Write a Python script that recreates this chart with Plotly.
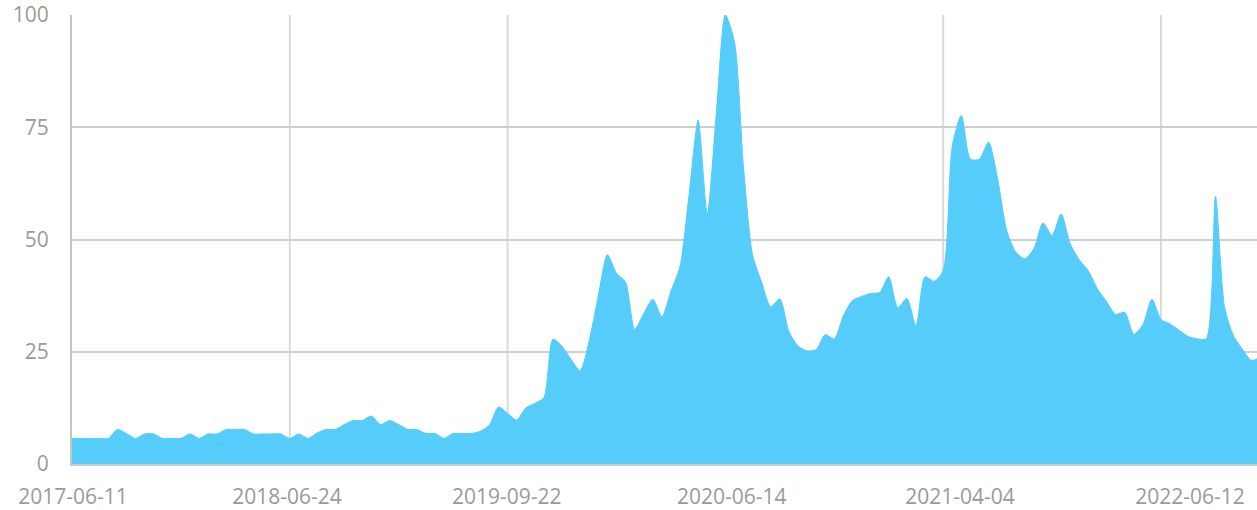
import plotly.graph_objects as go

# ---- data ----
values = [
    5.7, 5.7, 5.7, 5.7, 5.7, 7.7, 6.8, 5.7, 6.7, 6.7,
    5.7, 5.7, 5.7, 6.7, 5.7, 6.7, 6.7, 7.7, 7.7, 7.7,
    6.7, 6.7, 6.7, 6.7, 5.7, 6.7, 5.7, 6.9, 7.7, 7.7,
    8.8, 9.7, 9.7, 10.7, 8.8, 9.7, 8.8, 7.7, 7.7, 6.8,
    6.8, 5.7, 6.8, 6.8, 6.8, 7.3, 8.7, 12.7, 11.3, 9.8,
    12.5, 13.5, 14.8, 27.8, 26.2, 23.3, 20.8, 27.5, 37.5, 46.6,
    42.5, 40.5, 30.0, 33.5, 36.7, 32.8, 38.5, 44.0, 60.0, 76.6,
    55.7, 78.0, 100.0, 94.0, 66.0, 46.5, 40.5, 35.0, 36.8, 29.5,
    26.3, 25.2, 25.5, 28.8, 27.9, 33.0, 36.4, 37.3, 38.0, 38.2,
    41.7, 34.8, 36.9, 30.8, 41.7, 40.7, 43.1, 70.8, 77.6, 67.9,
    67.9, 71.7, 63.5, 52.0, 47.2, 45.7, 48.0, 53.7, 50.9, 55.7,
    49.0, 45.5, 43.0, 39.0, 36.2, 33.3, 33.8, 28.9, 31.0, 36.7,
    32.2, 31.2, 29.8, 28.4, 27.9, 27.9, 59.6, 35.0, 28.5, 25.5,
    23.0, 24.0,
]
tick_labels = ["2017-06-11", "2018-06-24", "2019-09-22", "2020-06-14", "2021-04-04", "2022-06-12"]
y_ticks = [0, 25, 50, 75, 100]

x = list(range(len(values)))
step = 24
grid_x = [k * step for k in range(len(tick_labels))]
label_x = [0.1, 23.7, 47.9, 72.7, 97.85, 123.2]

fig = go.Figure()
fig.add_trace(go.Scatter(
    x=x, y=values, mode="lines",
    line=dict(color="#55CCFA", width=1, shape="spline", smoothing=0.7),
    fill="tozeroy", fillcolor="#55CCFA",
    hoverinfo="skip", showlegend=False,
))

shapes = [
    dict(type="line", xref="x", yref="paper", x0=gx, x1=gx, y0=0, y1=1,
         line=dict(color="#dadada", width=2), layer="below")
    for gx in grid_x[1:]
]

font_family = "Open Sans, Lato, sans-serif"
fig.update_layout(
    width=1257, height=510,
    margin=dict(l=72, r=0, t=15, b=44),
    paper_bgcolor="white", plot_bgcolor="white",
    shapes=shapes,
    xaxis=dict(
        range=[0, 130.58],
        tickmode="array", tickvals=label_x, ticktext=tick_labels,
        showgrid=False, zeroline=False,
        showline=True, linecolor="#cccccc", linewidth=2,
        ticks="", ticklabelstandoff=13,
        tickfont=dict(family=font_family, size=21, color="#9a9a9a"),
    ),
    yaxis=dict(
        range=[0, 100],
        tickmode="array", tickvals=y_ticks,
        showgrid=True, gridcolor="#cfcfcf", gridwidth=1.5,
        zeroline=False,
        showline=True, linecolor="#c4c4c4", linewidth=2,
        ticks="", ticklabelstandoff=17,
        tickfont=dict(family=font_family, size=21, color="#9a9a9a"),
    ),
)

fig.write_html(
    "out.html",
    config={"displayModeBar": False},
    post_script="document.body.style.margin='0';document.body.style.overflow='hidden';",
)
